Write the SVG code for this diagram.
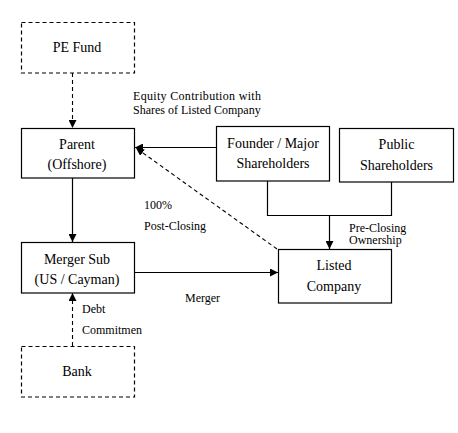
<svg xmlns="http://www.w3.org/2000/svg" width="458" height="433" viewBox="0 0 458 433">
<style>
.box{fill:#fff;stroke:#000;stroke-width:1.2}
.dbox{fill:#fff;stroke:#000;stroke-width:1.2;stroke-dasharray:4 3}
.t{font-size:14px;fill:#000;text-anchor:middle}
.s{font-size:12px;fill:#000}
.ln{fill:none;stroke:#000;stroke-width:1.2}
.dl{fill:none;stroke:#000;stroke-width:1.1;stroke-dasharray:4 3}
</style>
<defs>
<marker id="ah" viewBox="0 0 10 10" refX="10" refY="5" markerWidth="8" markerHeight="8" markerUnits="userSpaceOnUse" orient="auto">
<path d="M0,0 L10,5 L0,10 Z" fill="#000"/>
</marker>
</defs>
<rect width="458" height="433" fill="#fff"/>
<g id="connectors">
<line class="dl" x1="72.5" y1="73" x2="72.5" y2="128" marker-end="url(#ah)"/>
<line class="ln" x1="216.5" y1="147.5" x2="135" y2="147.5" marker-end="url(#ah)"/>
<line class="ln" x1="72.5" y1="178" x2="72.5" y2="242" marker-end="url(#ah)"/>
<line class="ln" x1="134.5" y1="272.5" x2="278" y2="272.5" marker-end="url(#ah)"/>
<line class="dl" x1="72.5" y1="346" x2="72.5" y2="293" marker-end="url(#ah)"/>
<polyline class="ln" points="267.5,181 267.5,215.5 391.5,215.5 391.5,182"/>
<line class="ln" x1="329.5" y1="215.5" x2="329.5" y2="249" marker-end="url(#ah)"/>
<line class="dl" x1="277" y1="249" x2="136" y2="148" marker-end="url(#ah)"/>
</g>
<g font-family="'Liberation Serif', 'Times New Roman', serif">
<g id="pe-fund">
<rect class="dbox" x="21.5" y="22.5" width="113" height="50.5"/>
<text class="t" x="77" y="52">PE Fund</text>
</g>
<g id="parent">
<rect class="box" x="21.5" y="128.5" width="113" height="49.5"/>
<text class="t" x="77" y="148.5">Parent</text>
<text class="t" x="77" y="168.5">(Offshore)</text>
</g>
<g id="founder">
<rect class="box" x="216.5" y="126.5" width="113" height="54.5"/>
<text class="t" x="273" y="148">Founder / Major</text>
<text class="t" x="273" y="168">Shareholders</text>
</g>
<g id="public">
<rect class="box" x="339.5" y="128.5" width="114" height="53.5"/>
<text class="t" x="396.5" y="149">Public</text>
<text class="t" x="396.5" y="169.5">Shareholders</text>
</g>
<g id="merger-sub">
<rect class="box" x="21.5" y="242.5" width="113" height="50.5"/>
<text class="t" x="77" y="263.5">Merger Sub</text>
<text class="t" x="77" y="284">(US / Cayman)</text>
</g>
<g id="listed">
<rect class="box" x="278.5" y="249.5" width="113" height="53.5"/>
<text class="t" x="334" y="269.5">Listed</text>
<text class="t" x="334" y="290.5">Company</text>
</g>
<g id="bank">
<rect class="dbox" x="21.5" y="346.5" width="113" height="50.5"/>
<text class="t" x="77" y="376">Bank</text>
</g>
<g id="labels">
<text class="s" x="133" y="100" textLength="128" lengthAdjust="spacing">Equity Contribution with</text>
<text class="s" x="133" y="114">Shares of Listed Company</text>
<text class="s" x="144" y="209">100%</text>
<text class="s" x="144" y="230">Post-Closing</text>
<text class="s" x="349" y="231.5">Pre-Closing</text>
<text class="s" x="349" y="244">Ownership</text>
<text class="s" x="185" y="302">Merger</text>
<text class="s" x="82" y="313">Debt</text>
<text class="s" x="82" y="334">Commitmen</text>
</g>
</g>
</svg>
